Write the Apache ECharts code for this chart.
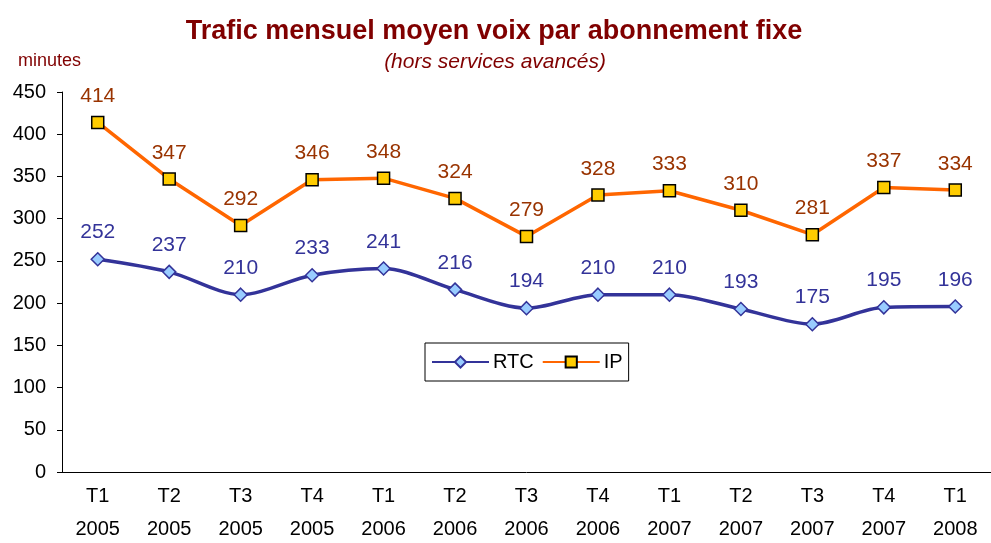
<!DOCTYPE html>
<html>
<head>
<meta charset="utf-8">
<script src="https://cdn.jsdelivr.net/npm/echarts@6/dist/echarts.min.js"></script>
<style>
  html, body { margin: 0; padding: 0; background: #fff; }
  #main { width: 991px; height: 543px; }
</style>
</head>
<body>
<div id="main"></div>
<script>
// trimestres
var categories = ["T1\n2005", "T2\n2005", "T3\n2005", "T4\n2005", "T1\n2006", "T2\n2006", "T3\n2006",
  "T4\n2006", "T1\n2007", "T2\n2007", "T3\n2007", "T4\n2007", "T1\n2008"];
// minutes par abonnement
var rtcValues = [252, 237, 210, 233, 241, 216, 194, 210, 210, 193, 175, 195, 196];
var ipValues = [414, 347, 292, 346, 348, 324, 279, 328, 333, 310, 281, 337, 334];

var myChart = echarts.init(document.getElementById('main'));

var option = {
  backgroundColor: '#fff',
  animation: false,
  title: [{
    text: 'Trafic mensuel moyen voix par abonnement fixe',
    left: 489, textAlign: 'center', top: 13,
    textStyle: { color: '#800000', fontSize: 27, fontWeight: 'bold', fontFamily: 'Arial' }
  }, {
    text: '(hors services avancés)',
    left: 490, textAlign: 'center', top: 47,
    textStyle: { color: '#800000', fontSize: 21, fontStyle: 'italic', fontWeight: 'normal', fontFamily: 'Arial' }
  }, {
    text: 'minutes',
    left: 13, top: 47,
    textStyle: { color: '#800000', fontSize: 18, fontWeight: 'normal', fontFamily: 'Arial' }
  }],
  legend: {
    left: 425, top: 343,
    width: 204,
    padding: [9, 6, 9, 6],
    itemGap: 8,
    itemWidth: 57, itemHeight: 14,
    borderColor: '#000', borderWidth: 1,
    textStyle: { color: '#000', fontSize: 20, fontFamily: 'Arial', padding: [0, 0, 0, -1] },
    data: ['RTC', 'IP']
  },
  grid: { left: 62, right: 0, top: 92, bottom: 71, outerBoundsMode: 'none' },
  xAxis: {
    type: 'category',
    data: categories,
    axisLine: { lineStyle: { color: '#000', width: 1 } },
    axisTick: { length: 5, lineStyle: { color: '#000' } },
    axisLabel: { color: '#000', fontSize: 20, fontFamily: 'Arial', lineHeight: 33, margin: 8 }
  },
  yAxis: {
    type: 'value',
    min: 0, max: 450, interval: 50,
    axisLine: { show: true, lineStyle: { color: '#000', width: 1 } },
    axisTick: { show: true, length: 5, lineStyle: { color: '#000' } },
    splitLine: { show: false },
    axisLabel: { color: '#000', fontSize: 20, fontFamily: 'Arial', margin: 16 }
  },
  series: [{
    name: 'RTC',
    type: 'line',
    data: rtcValues,
    smooth: 0.3,
    symbol: 'diamond', symbolSize: 13,
    lineStyle: { color: '#333399', width: 3.5 },
    itemStyle: { color: '#99ccff', borderColor: '#333399', borderWidth: 1.5 },
    label: { show: true, position: 'top', distance: 9, color: '#333399', fontSize: 21, fontFamily: 'Arial' }
  }, {
    name: 'IP',
    type: 'line',
    data: ipValues,
    symbol: 'rect', symbolSize: 12,
    lineStyle: { color: '#ff6600', width: 3.5 },
    itemStyle: { color: '#ffcc00', borderColor: '#000', borderWidth: 1.5 },
    label: { show: true, position: 'top', distance: 9, color: '#993300', fontSize: 21, fontFamily: 'Arial' }
  }]
};

myChart.setOption(option);
</script>
</body>
</html>
